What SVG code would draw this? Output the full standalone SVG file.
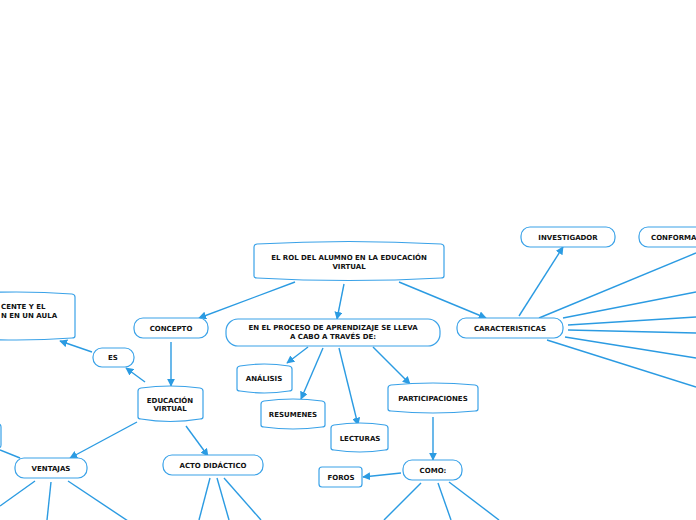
<svg xmlns="http://www.w3.org/2000/svg" width="696" height="520" viewBox="0 0 696 520">
<defs>
<marker id="ar" viewBox="0 0 10 10" refX="9" refY="5" markerWidth="8" markerHeight="8" markerUnits="userSpaceOnUse" orient="auto">
<path d="M0,0 L10,5 L0,10 Z" fill="#2b9be2"/>
</marker>
</defs>
<style>
.n{fill:#fff;stroke:#3aa2e8;stroke-width:1.2}
.t{font-family:"DejaVu Sans",Verdana,sans-serif;font-weight:bold;font-size:7px;fill:#111;text-anchor:middle}
.c line{stroke:#2b9be2;stroke-width:1.4}
.a{marker-end:url(#ar)}
</style>
<rect width="696" height="520" fill="#fff"/>
<g class="c" id="connectors">
<line class="a" x1="295" y1="282" x2="199" y2="318"/>
<line class="a" x1="344" y1="284" x2="337" y2="319"/>
<line class="a" x1="399" y1="282" x2="486" y2="318"/>
<line class="a" x1="171" y1="342" x2="171" y2="386"/>
<line class="a" x1="145" y1="382" x2="126" y2="368"/>
<line class="a" x1="92" y1="352" x2="60" y2="341"/>
<line class="a" x1="137" y1="422" x2="70" y2="458"/>
<line class="a" x1="186" y1="426" x2="208" y2="456"/>
<line x1="20" y1="458" x2="0" y2="450"/>
<line x1="35" y1="481" x2="0" y2="506"/>
<line x1="51" y1="482" x2="47" y2="520"/>
<line x1="68" y1="481" x2="128" y2="521"/>
<line x1="210" y1="478" x2="199" y2="520"/>
<line x1="217" y1="478" x2="229" y2="520"/>
<line x1="224" y1="478" x2="261" y2="520"/>
<line class="a" x1="308" y1="347" x2="287" y2="363"/>
<line class="a" x1="323" y1="348" x2="301" y2="399"/>
<line class="a" x1="339" y1="348" x2="358" y2="425"/>
<line class="a" x1="373" y1="347" x2="410" y2="384"/>
<line class="a" x1="433" y1="417" x2="433" y2="460"/>
<line class="a" x1="401" y1="473" x2="363" y2="477"/>
<line x1="421" y1="483" x2="384" y2="520"/>
<line x1="438" y1="483" x2="451" y2="520"/>
<line x1="449" y1="482" x2="499" y2="520"/>
<line class="a" x1="519" y1="316" x2="563" y2="247"/>
<line x1="539" y1="318" x2="696" y2="253"/>
<line x1="563" y1="318" x2="696" y2="292"/>
<line x1="568" y1="325" x2="696" y2="317"/>
<line x1="568" y1="330" x2="696" y2="333"/>
<line x1="565" y1="337" x2="696" y2="358"/>
<line x1="547" y1="340" x2="696" y2="387"/>
</g>
<g id="root">
<path class="n" d="M257,244 Q349,239 441,244 Q444,244.5 444,247 L444,276 Q444,278 441,278 Q349,283 257,278 Q254,278 254,276 L254,247 Q254,244.5 257,244 Z"/>
<text class="t" x="349" y="260">EL ROL DEL ALUMNO EN LA EDUCACIÓN</text>
<text class="t" x="349" y="269">VIRTUAL</text>
</g>
<g id="concepto">
<rect class="n" x="134" y="318" width="74" height="20" rx="9"/>
<text class="t" x="171" y="331">CONCEPTO</text>
</g>
<g id="proceso">
<rect class="n" x="226" y="319" width="214" height="27" rx="12"/>
<text class="t" x="333" y="330">EN EL PROCESO DE APRENDIZAJE SE LLEVA</text>
<text class="t" x="333" y="339">A CABO A TRAVÉS DE:</text>
</g>
<g id="caracteristicas">
<rect class="n" x="457" y="318" width="106" height="20" rx="9"/>
<text class="t" x="510" y="331">CARACTERISTICAS</text>
</g>
<g id="investigador">
<rect class="n" x="521" y="227" width="94" height="20" rx="9"/>
<text class="t" x="568" y="240">INVESTIGADOR</text>
</g>
<g id="conforma">
<rect class="n" x="639" y="227" width="120" height="20" rx="9"/>
<text class="t" x="651" y="240" style="text-anchor:start">CONFORMA</text>
</g>
<g id="docente">
<path class="n" d="M-40,294 Q17,290 72,294 Q75,294.5 75,297 L75,336 Q75,338 72,338 Q17,342 -40,338 Z"/>
<text class="t" x="1" y="309" style="text-anchor:start">CENTE Y EL</text>
<text class="t" x="1" y="318" style="text-anchor:start">N EN UN AULA</text>
</g>
<g id="es">
<rect class="n" x="93" y="348" width="41" height="19" rx="9"/>
<text class="t" x="113" y="360">ES</text>
</g>
<g id="educacion">
<path class="n" d="M141,388 Q170,384 200,388 Q203,388.5 203,391 L203,417 Q203,419 200,419 Q170,424 141,419 Q138,419 138,417 L138,391 Q138,388.5 141,388 Z"/>
<text class="t" x="170" y="403">EDUCACIÓN</text>
<text class="t" x="170" y="411">VIRTUAL</text>
</g>
<g id="leftnode">
<path class="n" d="M-40,424 L-2,424 Q1,424 1,427 L1,445 Q1,448 -2,448 L-40,448 Z"/>
</g>
<g id="ventajas">
<rect class="n" x="15" y="458" width="72" height="20" rx="9"/>
<text class="t" x="51" y="471">VENTAJAS</text>
</g>
<g id="acto">
<rect class="n" x="163" y="455" width="100" height="20" rx="9"/>
<text class="t" x="213" y="468">ACTO DIDÁCTICO</text>
</g>
<g id="analisis">
<path class="n" d="M240,366 Q264,362 289,366 Q292,366.5 292,369 L292,389 Q292,391 289,391 Q264,395 240,391 Q237,391 237,389 L237,369 Q237,366.5 240,366 Z"/>
<text class="t" x="264" y="381">ANÁLISIS</text>
</g>
<g id="resumenes">
<path class="n" d="M264,401 Q293,397 322,401 Q325,401.5 325,404 L325,425 Q325,427 322,427 Q293,431 264,427 Q261,427 261,425 L261,404 Q261,401.5 264,401 Z"/>
<text class="t" x="293" y="417">RESUMENES</text>
</g>
<g id="lecturas">
<path class="n" d="M334,425 Q360,421 385,425 Q388,425.5 388,428 L388,448 Q388,450 385,450 Q360,454 334,450 Q331,450 331,448 L331,428 Q331,425.5 334,425 Z"/>
<text class="t" x="360" y="441">LECTURAS</text>
</g>
<g id="participaciones">
<path class="n" d="M391,385 Q433,381 475,385 Q478,385.5 478,388 L478,409 Q478,411 475,411 Q433,415 391,411 Q388,411 388,409 L388,388 Q388,385.5 391,385 Z"/>
<text class="t" x="433" y="401">PARTICIPACIONES</text>
</g>
<g id="como">
<rect class="n" x="403" y="460" width="59" height="20" rx="9"/>
<text class="t" x="433" y="473">COMO:</text>
</g>
<g id="foros">
<rect class="n" x="319" y="467" width="43" height="20" rx="3"/>
<text class="t" x="341" y="480">FOROS</text>
</g>
</svg>
